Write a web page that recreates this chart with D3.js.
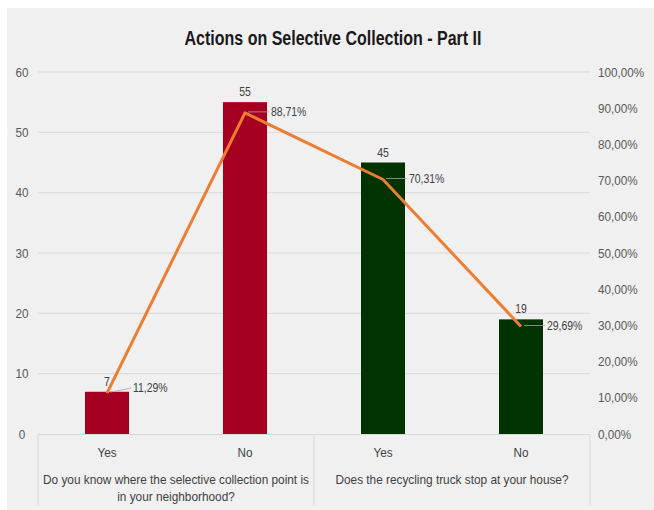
<!DOCTYPE html>
<html>
<head>
<meta charset="utf-8">
<script src="https://cdn.jsdelivr.net/npm/d3@7"></script>
<style>
  body { margin: 0; background: #fff; }
  text { font-family: "Liberation Sans Narrow", "Liberation Sans", Arial, sans-serif; }
</style>
</head>
<body>
<svg id="chart" width="654" height="510"></svg>
<script>
// Chart data
const questions = [
    ["Do you know where the selective collection point is", "in your neighborhood?"],
    ["Does the recycling truck stop at your house?"]
];
const answers = ["Yes", "No", "Yes", "No"];
const groupOf = [0, 0, 1, 1];
const counts = [7, 55, 45, 19];
const percents = [11.29, 88.71, 70.31, 29.69];
const countTicks = [0, 10, 20, 30, 40, 50, 60];
const percentTicks = [0, 10, 20, 30, 40, 50, 60, 70, 80, 90, 100];

const svg = d3.select("#chart");
const W = 654, H = 510;
const plotLeft = 38, plotRight = 590, plotTop = 72, plotBottom = 434;

// Narrow text: draw at (x, y) squeezed horizontally, like the condensed Excel font
function label(parent, x, y, str, opts = {}) {
    const sx = opts.sx || 0.88;
    return parent.append("text")
        .attr("transform", `translate(${x},${y}) scale(${sx},1)`)
        .attr("dy", opts.dy || null)
        .attr("text-anchor", opts.anchor || "start")
        .attr("font-size", opts.size || 13)
        .attr("font-weight", opts.weight || null)
        .attr("fill", opts.fill || "#404040")
        .text(str);
}

// Background panel
svg.append("rect")
    .attr("x", 7).attr("y", 8)
    .attr("width", W - 7).attr("height", H - 8)
    .attr("fill", "#f0f0f0");

// Title
label(svg, 333, 45, "Actions on Selective Collection - Part II",
    { anchor: "middle", size: 20, weight: "bold", fill: "#1a1a1a", sx: 0.8 });

// Scales
const x = d3.scaleBand().domain(d3.range(answers.length)).range([plotLeft, plotRight]);
const y = d3.scaleLinear().domain([0, 60]).range([plotBottom, plotTop]);
const yp = d3.scaleLinear().domain([0, 100]).range([plotBottom, plotTop]);
const barW = 44;
const cx = i => x(i) + x.bandwidth() / 2;

// Grid lines
svg.append("g").selectAll("line")
    .data(countTicks.filter(d => d > 0))
    .join("line")
    .attr("x1", plotLeft).attr("x2", plotRight)
    .attr("y1", d => y(d)).attr("y2", d => y(d))
    .attr("stroke", "#d9d9d9").attr("stroke-width", 1);

// Left axis labels
const leftAxis = svg.append("g");
countTicks.forEach(d => label(leftAxis, 22, y(d), d,
    { anchor: "middle", dy: "0.35em", fill: "#595959", sx: 0.9 }));

// Right axis labels
const fmtPct = v => d3.format(".2f")(v).replace(".", ",") + "%";
const rightAxis = svg.append("g");
percentTicks.forEach(d => label(rightAxis, 598, yp(d), fmtPct(d),
    { dy: "0.35em", fill: "#595959", sx: 0.9 }));

// Bars
const barColor = ["#a50021", "#003300"];
svg.append("g").selectAll("rect")
    .data(counts)
    .join("rect")
    .attr("x", (d, i) => cx(i) - barW / 2)
    .attr("width", barW)
    .attr("y", d => y(d))
    .attr("height", d => plotBottom - y(d))
    .attr("fill", (d, i) => barColor[groupOf[i]]);

// Bar value labels
const valLabels = svg.append("g");
counts.forEach((d, i) => label(valLabels, cx(i), y(d) - 6, d,
    { anchor: "middle", size: 12, sx: 0.87 }));

// Category axis: baseline and separators
const axis = svg.append("g").attr("stroke", "#d9d9d9").attr("stroke-width", 1);
axis.append("line").attr("x1", plotLeft).attr("x2", plotRight).attr("y1", plotBottom + 0.5).attr("y2", plotBottom + 0.5);
[plotLeft, x(2), plotRight].forEach(px => {
    axis.append("line").attr("x1", px).attr("x2", px).attr("y1", plotBottom).attr("y2", 505);
});

// Answer labels
const ansLabels = svg.append("g");
answers.forEach((d, i) => label(ansLabels, cx(i), 457, d, { anchor: "middle", sx: 0.9 }));

// Question labels
const qLabels = svg.append("g");
questions.forEach((lines, g) => {
    const mid = (cx(g * 2) + cx(g * 2 + 1)) / 2;
    lines.forEach((t, k) => label(qLabels, mid, 484 + k * 17, t, { anchor: "middle", sx: 0.91 }));
});

// Percent line
const pts = percents.map((p, i) => [cx(i), yp(p)]);
svg.append("path")
    .attr("d", d3.line()(pts))
    .attr("fill", "none")
    .attr("stroke", "#ed7d31")
    .attr("stroke-width", 3)
    .attr("stroke-linejoin", "round");

// Percent labels with leader lines
const lab = svg.append("g");
pts.forEach((p, i) => {
    const dy = i === 0 ? -5 : -1;
    lab.append("line")
        .attr("x1", p[0] + 3).attr("y1", p[1] - 1)
        .attr("x2", p[0] + 24).attr("y2", p[1] + dy)
        .attr("stroke", "#a6a6a6").attr("stroke-width", 0.8);
    label(lab, p[0] + 26, p[1] + dy, fmtPct(percents[i]), { dy: "0.35em", size: 12, sx: 0.87 });
});
</script>
</body>
</html>
